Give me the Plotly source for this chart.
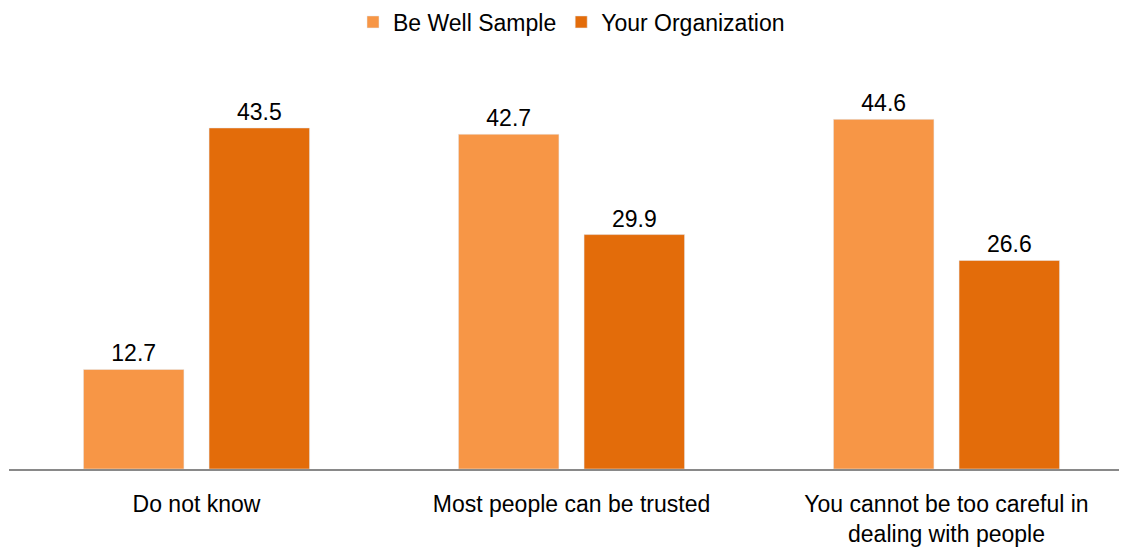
import plotly.graph_objects as go

categories = ["Do not know", "Most people can be trusted", "You cannot be too careful in<br>dealing with people"]
be_well = [12.7, 42.7, 44.6]
your_org = [43.5, 29.9, 26.6]

FONT = "Liberation Sans"
SIZE = 23
fig = go.Figure()
fig.add_trace(go.Bar(name="Be Well Sample", x=categories, y=be_well, marker_color="#F79646",
                     text=[f"{v:.1f}" for v in be_well], textposition="outside",
                     textfont=dict(size=SIZE, color="#000000", family=FONT), cliponaxis=False))
fig.add_trace(go.Bar(name="Your Organization", x=categories, y=your_org, marker_color="#E36C0A",
                     text=[f"{v:.1f}" for v in your_org], textposition="outside",
                     textfont=dict(size=SIZE, color="#000000", family=FONT), cliponaxis=False))

fig.update_layout(
    width=1127, height=552,
    margin=dict(l=1, r=1, t=69, b=91),
    paper_bgcolor="white", plot_bgcolor="white",
    barmode="group", bargap=0.33, bargroupgap=0.2,
    font=dict(family=FONT, size=SIZE, color="#000000"),
    legend=dict(orientation="h", x=0.5, xanchor="center", y=1 - 14 / 552, yanchor="middle",
                yref="container", font=dict(size=SIZE), traceorder="normal"),
    showlegend=True,
)
fig.update_xaxes(showline=True, linecolor="#898989", linewidth=2, ticks="", showgrid=False,
                 tickfont=dict(size=SIZE, family=FONT), automargin=False, ticklabelstandoff=13)
fig.update_yaxes(range=[0, 50], visible=False, showgrid=False, zeroline=False)
fig.write_html("out.html")
